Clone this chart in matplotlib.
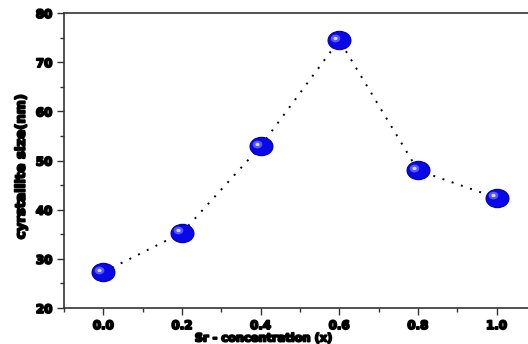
import matplotlib
matplotlib.use("Agg")
import matplotlib.pyplot as plt
import matplotlib.transforms as mtransforms
import matplotlib.patheffects as pe
from matplotlib.path import Path
from matplotlib.ticker import MultipleLocator

x_conc = [0.0, 0.2, 0.4, 0.6, 0.8, 1.0]
size_nm = [27.3, 35.3, 52.9, 74.5, 48.0, 42.4]
x_ticks = [0.0, 0.2, 0.4, 0.6, 0.8, 1.0]
x_ticklabels = ["0.0", "0.2", "0.4", "0.6", "0.8", "1.0"]
y_ticks = [20, 30, 40, 50, 60, 70, 80]

ellipse = Path.unit_circle().transformed(mtransforms.Affine2D().scale(1.0, 0.8))

fig = plt.figure(figsize=(5.28, 3.44), dpi=100)
ax = fig.add_axes([64/528, 1-308/344, 1-64/528, (308-13)/344])

ax.plot(x_conc, size_nm, linestyle=(0, (1, 4)), color="black", linewidth=1.4, zorder=2)
ax.plot(x_conc, size_nm, linestyle="none", marker=ellipse, markersize=16.5,
        markerfacecolor="#0808e8", markeredgecolor="#0000a8", markeredgewidth=0.8, zorder=3)
off = mtransforms.ScaledTranslation(-4/100, 2.5/100, fig.dpi_scale_trans)
ax.plot(x_conc, size_nm, linestyle="none", marker=ellipse, markersize=7,
        markerfacecolor="#6a6aff", markeredgecolor="none", alpha=0.8,
        transform=ax.transData + off, zorder=4)
ax.plot(x_conc, size_nm, linestyle="none", marker=ellipse, markersize=3,
        markerfacecolor="#d8d8ff", markeredgecolor="none",
        transform=ax.transData + off, zorder=5)

ax.set_xlim(-0.1, 1.08)
ax.set_ylim(20, 80)
ax.set_xticks(x_ticks)
ax.set_xticklabels(x_ticklabels)
ax.set_yticks(y_ticks)
ax.xaxis.set_minor_locator(MultipleLocator(0.1))
ax.yaxis.set_minor_locator(MultipleLocator(5))
ax.tick_params(which="both", direction="out", color="#333333")
ax.tick_params(which="major", length=5, width=1)
ax.tick_params(which="minor", length=3, width=1)
ax.tick_params(axis="x", pad=3)
ax.spines["right"].set_visible(False)
for s in ["left", "bottom", "top"]:
    ax.spines[s].set_color("#333333")
    ax.spines[s].set_linewidth(1.2)

stroke = [pe.withStroke(linewidth=1.3, foreground="black")]
for lab in ax.get_xticklabels() + ax.get_yticklabels():
    lab.set_fontfamily("DejaVu Sans")
    lab.set_fontweight("bold")
    lab.set_fontsize(8.5)
    lab.set_path_effects(stroke)

fig.text(264/528, 1-338.5/344, "Sr - concentration (x)", fontsize=8.2, fontweight="bold",
         ha="center", va="center", path_effects=stroke)
ax.set_ylabel("cyrstallite size(nm)", fontsize=9.6, fontweight="bold",
              path_effects=stroke)
ax.yaxis.set_label_coords(-0.078, 0.48)

fig.savefig("out.png", dpi=100)
